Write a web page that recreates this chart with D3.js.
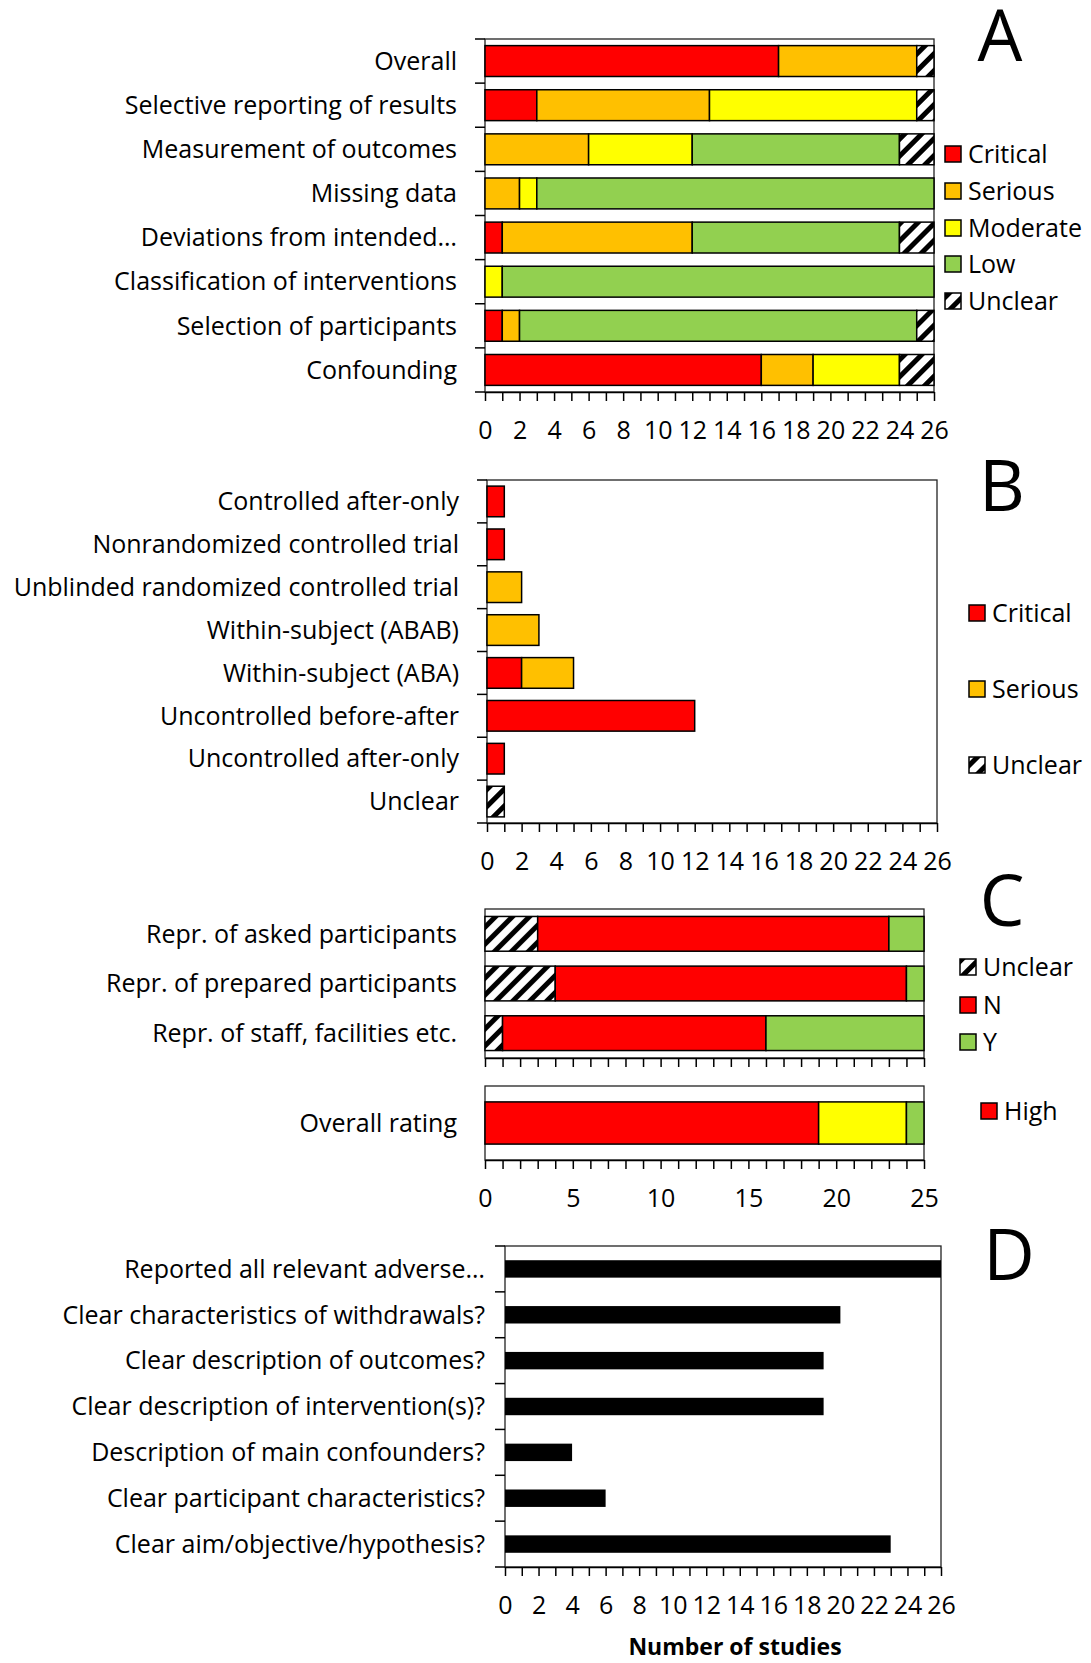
<!DOCTYPE html>
<meta charset="utf-8">
<body style="margin:0;background:#fff">
<style>
  text { font-family: "Open Sans", sans-serif; fill: #000; }
  .bar { stroke: #000; stroke-width: 1.5px; }
  .frame { fill: none; stroke: #222; stroke-width: 1.3px; }
  .tick line, .yt { stroke: #000; stroke-width: 1.5px; }
</style>
<script src="https://d3js.org/d3.v7.min.js"></script>
<script>

// ---- panel A: risk of bias domains
var domainsA = ["Overall", "Selective reporting of results", "Measurement of outcomes", "Missing data",
  "Deviations from intended…", "Classification of interventions", "Selection of participants", "Confounding"];
var levelsA = ["Critical", "Serious", "Moderate", "Low", "Unclear"];
var criticalA = [17, 3, 0, 0, 1, 0, 1, 16];
var seriousA  = [8, 10, 6, 2, 11, 0, 1, 3];
var moderateA = [0, 12, 6, 1, 0, 1, 0, 5];
var lowA      = [0, 0, 12, 23, 12, 25, 23, 0];
var unclearA  = [1, 1, 2, 0, 2, 0, 1, 2];

// ---- panel B: study designs
var designsB = ["Controlled after-only", "Nonrandomized controlled trial", "Unblinded randomized controlled trial",
  "Within-subject (ABAB)", "Within-subject (ABA)", "Uncontrolled before-after", "Uncontrolled after-only", "Unclear"];
var levelsB = ["Critical", "Serious", "Unclear"];
var criticalB = [1, 1, 0, 0, 2, 12, 1, 0];
var seriousB  = [0, 0, 2, 3, 3, 0, 0, 0];
var unclearB  = [0, 0, 0, 0, 0, 0, 0, 1];

// ---- panel C: representativeness
var itemsC = ["Repr. of asked participants", "Repr. of prepared participants", "Repr. of staff, facilities etc."];
var levelsC = ["Unclear", "N", "Y"];
var unclearC = [3, 4, 1];
var noC      = [20, 20, 15];
var yesC     = [2, 1, 9];
var overallC = ["Overall rating"];
var levelsC2 = ["High"];
var highC = [19];
var modC  = [5];
var lowC  = [1];

// ---- panel D: reporting quality
var questionsD = ["Reported all relevant adverse…", "Clear characteristics of withdrawals?", "Clear description of outcomes?",
  "Clear description of intervention(s)?", "Description of main confounders?", "Clear participant characteristics?",
  "Clear aim/objective/hypothesis?"];
var countsD = [26, 20, 19, 19, 4, 6, 23];

var colors = {Critical: "#ff0000", Serious: "#ffc000", Moderate: "#ffff00", Low: "#92d050",
  Unclear: "url(#hatch)", N: "#ff0000", Y: "#92d050", High: "#ff0000"};

var svg = d3.select("body").append("svg")
  .attr("width", 1091).attr("height", 1663);

var pat = svg.append("defs").append("pattern")
  .attr("id", "hatch").attr("patternUnits", "userSpaceOnUse")
  .attr("width", 12).attr("height", 12)
  .attr("patternTransform", "rotate(45)");
pat.append("rect").attr("width", 12).attr("height", 12).attr("fill", "#fff");
pat.append("rect").attr("width", 5).attr("height", 12).attr("fill", "#000");

// generic stacked horizontal bar panel
function panel(o) {
  var g = svg.append("g");
  var x = d3.scaleLinear().domain([0, o.max]).range([o.x0, o.x1]);
  var y = d3.scaleBand().domain(o.cats).range([o.y0, o.y1])
    .paddingInner(o.pad).paddingOuter(o.pad / 2);

  g.append("rect").attr("class", "frame")
    .attr("x", o.x0).attr("y", o.y0).attr("width", o.x1 - o.x0).attr("height", o.y1 - o.y0);

  o.cats.forEach(function(c, i) {
    var acc = 0;
    o.series.forEach(function(s, k) {
      var v = s[i];
      if (v > 0) {
        g.append("rect").attr("class", o.plain ? null : "bar")
          .attr("x", x(acc)).attr("width", x(acc + v) - x(acc))
          .attr("y", y(c)).attr("height", y.bandwidth())
          .attr("fill", o.fills[k]);
      }
      acc += v;
    });
  });

  // category boundary ticks
  if (o.yticks) {
    g.selectAll(".yt").data(d3.range(o.cats.length + 1)).join("line")
      .attr("class", "yt")
      .attr("x1", o.x0 - 10).attr("x2", o.x0)
      .attr("y1", function(i) { return o.y0 + i * y.step(); })
      .attr("y2", function(i) { return o.y0 + i * y.step(); });
  }

  g.selectAll(".lab").data(o.cats).join("text")
    .attr("class", "lab")
    .attr("x", o.x0 - o.labGap)
    .attr("y", function(c) { return y(c) + y.bandwidth() / 2; })
    .attr("dy", "0.35em")
    .attr("text-anchor", "end")
    .style("font-size", "25px")
    .text(function(c) { return c; });

  var ax = g.append("g").attr("transform", "translate(0," + o.y1 + ")")
    .call(d3.axisBottom(x).tickValues(d3.range(0, o.max + 1))
      .tickSize(9).tickSizeOuter(0).tickPadding(20)
      .tickFormat(function(d) { return o.showLabels && d % o.every === 0 ? d : ""; }));
  ax.select(".domain").attr("stroke", "#000").attr("stroke-width", 1.5);
  ax.selectAll("text").style("font-size", "25px").attr("font-family", null);
}

function legend(items, lx, ys) {
  var g = svg.append("g");
  items.forEach(function(name, i) {
    g.append("rect").attr("x", lx).attr("y", ys[i] - 8).attr("width", 16).attr("height", 16)
      .attr("fill", colors[name]).attr("stroke", "#000").attr("stroke-width", 1.5);
    g.append("text").attr("x", lx + 23).attr("y", ys[i]).attr("dy", "0.35em")
      .style("font-size", "25px").text(name);
  });
}

function letter(t, cx, by) {
  svg.append("text").attr("x", cx).attr("y", by).attr("text-anchor", "middle")
    .style("font-size", "71px").text(t);
}

panel({cats: domainsA, series: [criticalA, seriousA, moderateA, lowA, unclearA],
  fills: levelsA.map(function(l) { return colors[l]; }),
  max: 26, every: 2, x0: 485, x1: 934, y0: 39, y1: 392, pad: 0.3, yticks: true, labGap: 28, showLabels: true});
legend(levelsA, 945, [154, 191, 228, 264, 301]);
letter("A", 1000, 61);

panel({cats: designsB, series: [criticalB, seriousB, unclearB],
  fills: levelsB.map(function(l) { return colors[l]; }),
  max: 26, every: 2, x0: 487, x1: 937, y0: 480, y1: 823, pad: 0.285, yticks: true, labGap: 28, showLabels: true});
legend(levelsB, 969, [613, 689, 765]);
letter("B", 1002, 511);

panel({cats: itemsC, series: [unclearC, noC, yesC],
  fills: levelsC.map(function(l) { return colors[l]; }),
  max: 25, every: 5, x0: 485, x1: 924, y0: 909, y1: 1058, pad: 0.3, yticks: false, labGap: 28, showLabels: false});
panel({cats: overallC, series: [highC, modC, lowC],
  fills: ["#ff0000", "#ffff00", "#92d050"],
  max: 25, every: 5, x0: 485, x1: 924, y0: 1086, y1: 1160, pad: 0.43, yticks: false, labGap: 28, showLabels: true});
legend(levelsC, 960, [967, 1005, 1042]);
legend(levelsC2, 981, [1111]);
letter("C", 1002, 926);

panel({cats: questionsD, series: [countsD], fills: ["#000"], plain: true,
  max: 26, every: 2, x0: 505, x1: 941, y0: 1246, y1: 1567, pad: 0.62, yticks: true, labGap: 20, showLabels: true});
letter("D", 1009, 1280);

svg.append("text").attr("x", 735).attr("y", 1655).attr("text-anchor", "middle")
  .style("font-size", "23px").style("font-weight", "bold").text("Number of studies");
</script>
</body>
